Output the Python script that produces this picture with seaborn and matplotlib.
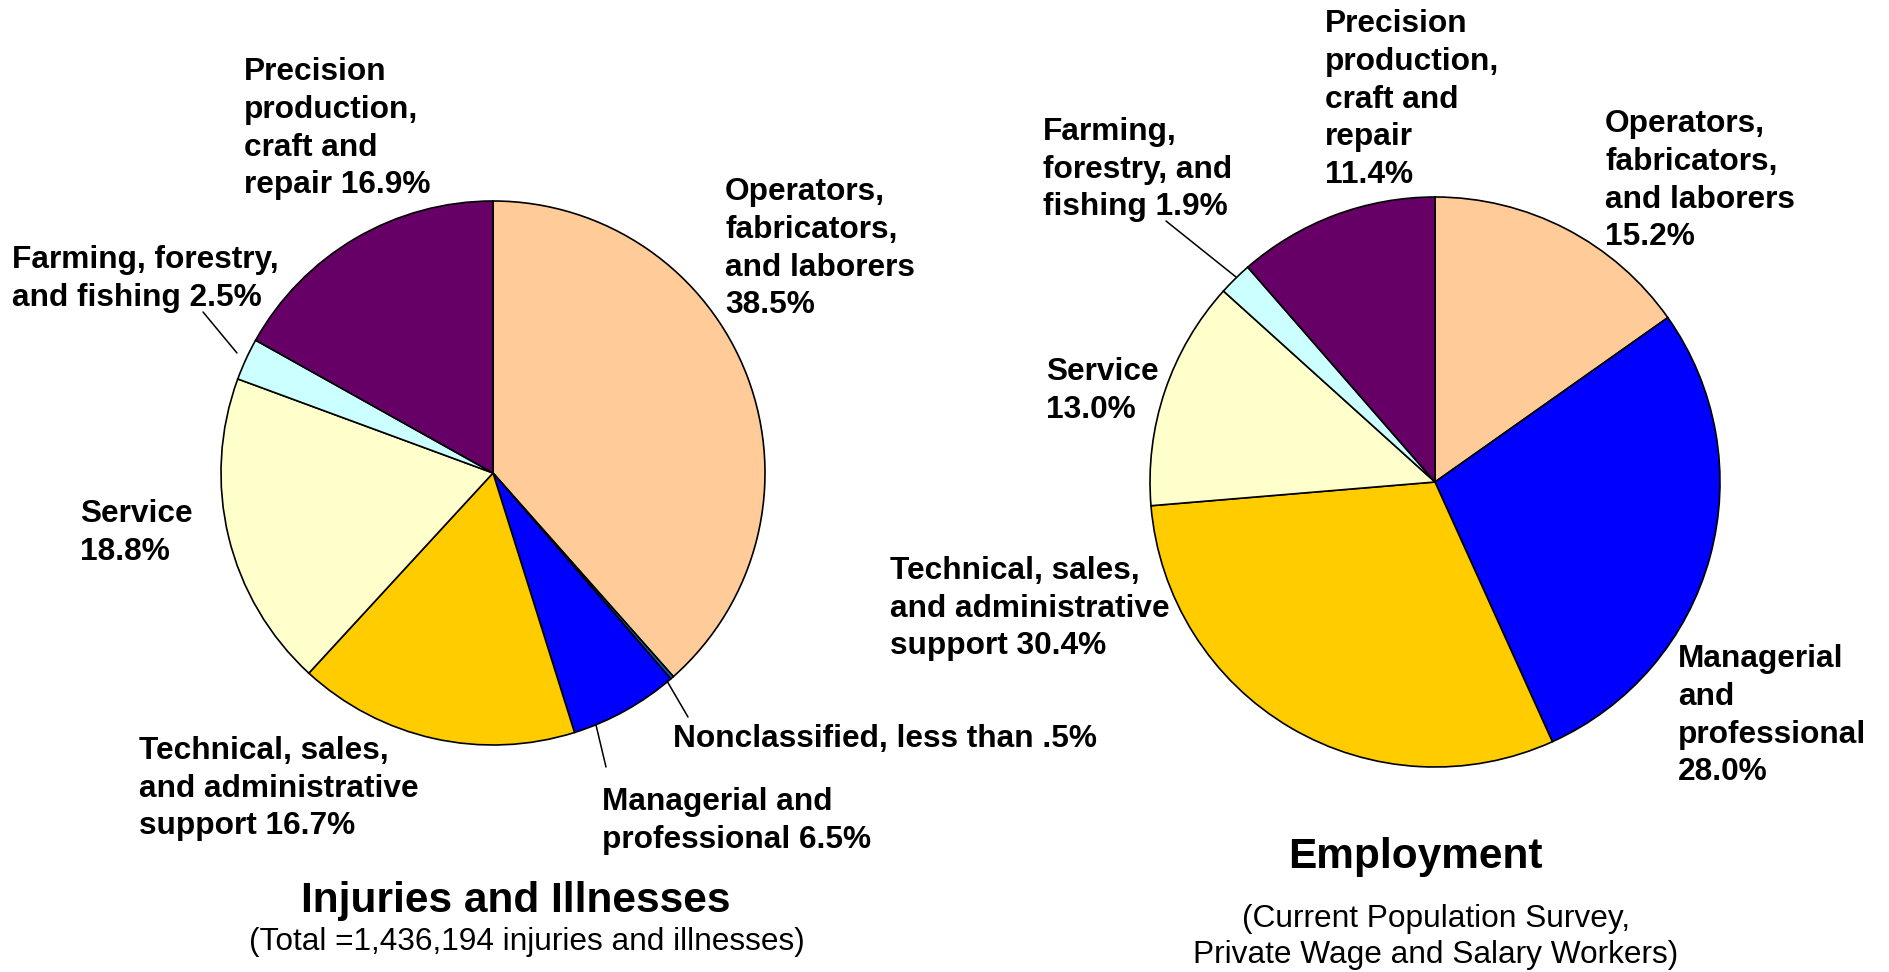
import matplotlib
matplotlib.use("Agg")
import matplotlib.pyplot as plt
import seaborn as sns

# occupation groups, clockwise from 12 o'clock
left_groups = ["Operators", "Nonclassified", "Managerial", "Technical", "Service", "Farming", "Precision"]
left_values = [38.5, 0.2, 6.5, 16.7, 18.8, 2.5, 16.9]
left_colors = ["#FFCC99", "#0066CC", "#0000FF", "#FFCC00", "#FFFFCC", "#CCFFFF", "#660066"]

right_groups = ["Operators", "Managerial", "Technical", "Service", "Farming", "Precision"]
right_values = [15.2, 28.0, 30.4, 13.0, 1.9, 11.4]
right_colors = ["#FFCC99", "#0000FF", "#FFCC00", "#FFFFCC", "#CCFFFF", "#660066"]

left_labels = {
    "Precision": "Precision\nproduction,\ncraft and\nrepair {:.1f}%",
    "Farming": "Farming, forestry,\nand fishing {:.1f}%",
    "Operators": "Operators,\nfabricators,\nand laborers\n{:.1f}%",
    "Service": "Service\n{:.1f}%",
    "Technical": "Technical, sales,\nand administrative\nsupport {:.1f}%",
    "Managerial": "Managerial and\nprofessional {:.1f}%",
    "Nonclassified": "Nonclassified, less than .5%",
}
right_labels = {
    "Precision": "Precision\nproduction,\ncraft and\nrepair\n{:.1f}%",
    "Farming": "Farming,\nforestry, and\nfishing {:.1f}%",
    "Operators": "Operators,\nfabricators,\nand laborers\n{:.1f}%",
    "Service": "Service\n{:.1f}%",
    "Technical": "Technical, sales,\nand administrative\nsupport {:.1f}%",
    "Managerial": "Managerial\nand\nprofessional\n{:.1f}%",
}

# label anchor (left x, first baseline y) in pixels from the top-left
left_pos = {
    "Precision": (244, 80), "Farming": (12, 268), "Operators": (725, 200),
    "Service": (80, 522), "Technical": (139, 759), "Managerial": (602, 810),
    "Nonclassified": (673, 747),
}
right_pos = {
    "Precision": (1325, 32), "Farming": (1043, 140), "Operators": (1605, 132),
    "Service": (1046, 380), "Technical": (890, 579), "Managerial": (1678, 667),
}
LINE = 37.7  # pixel distance between baselines

W, H = 1889, 972
sns.set_theme(style="white")
plt.rcParams["font.family"] = ["Liberation Sans", "DejaVu Sans"]
plt.rcParams["text.color"] = "black"

fig = plt.figure(figsize=(W / 100, H / 100), dpi=100)
ax = fig.add_axes([0, 0, 1, 1])


def Y(y):
    return H - y


wedge_style = dict(edgecolor="black", linewidth=1.2)
ax.pie(left_values, colors=left_colors, startangle=90, counterclock=False,
       center=(493, Y(473)), radius=272, wedgeprops=wedge_style, frame=True)
ax.pie(right_values, colors=right_colors, startangle=90, counterclock=False,
       center=(1435, Y(482)), radius=285, wedgeprops=wedge_style, frame=True)
ax.set_xlim(0, W)
ax.set_ylim(0, H)
ax.set_aspect("equal")
ax.axis("off")

label_kw = dict(fontsize=22.8, fontweight="bold", ha="left", va="baseline",
                linespacing=1.33)


def put_label(text, x, y):
    # va='baseline' anchors the last line, so shift down by the extra lines
    n = text.count("\n")
    ax.text(x, Y(y + n * LINE), text, **label_kw)


for g, v in zip(left_groups, left_values):
    put_label(left_labels[g].format(v), *left_pos[g])
for g, v in zip(right_groups, right_values):
    put_label(right_labels[g].format(v), *right_pos[g])

# leader lines
for (x0, y0), (x1, y1) in [((203, 312), (237, 353)), ((667, 681), (688, 717)),
                           ((596, 725), (606, 767)), ((1166, 221), (1236, 277))]:
    ax.plot([x0, x1], [Y(y0), Y(y1)], color="black", linewidth=1.1)

ax.text(516, Y(901), "Injuries and Illnesses", fontsize=30.5, fontweight="bold",
        ha="center", va="center")
ax.text(527, Y(942), "(Total =1,436,194 injuries and illnesses)", fontsize=22.8,
        ha="center", va="center")
ax.text(1415, Y(857), "Employment", fontsize=30.5, fontweight="bold",
        ha="center", va="center")
ax.text(1436, Y(937), "(Current Population Survey,\nPrivate Wage and Salary Workers)",
        fontsize=22.8, ha="center", va="center", linespacing=1.25)

fig.savefig("out.png", dpi=100, facecolor="white")
